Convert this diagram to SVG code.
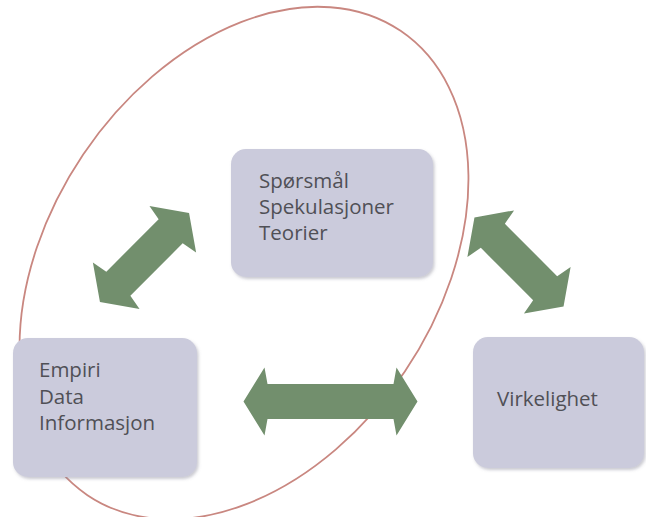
<svg xmlns="http://www.w3.org/2000/svg" width="646" height="517" viewBox="0 0 646 517">
<defs>
<style>
.box{fill:#cbcbdc;filter:url(#sh)}
.lbl{font-family:"Open Sans","Noto Sans",sans-serif;font-size:20.5px;fill:#505056}
.arr{fill:#728f6d}
.ring{fill:none;stroke:#c98780;stroke-width:1.8}
</style>
<filter id="sh" x="-10%" y="-10%" width="125%" height="125%">
<feDropShadow dx="1.5" dy="2" stdDeviation="1.5" flood-color="#8a8a9a" flood-opacity="0.45"/>
</filter>
<path id="dArr" d="M-63,0 L-40,-33 L-37,-17 L37,-17 L40,-33 L63,0 L40,33 L37,17 L-37,17 L-40,33 Z"/>
</defs>
<rect width="646" height="517" fill="#ffffff"/>
<ellipse class="ring" cx="244" cy="263" rx="280" ry="194" transform="rotate(-56 244 263)"/>
<g id="connectors">
<use href="#dArr" class="arr" transform="translate(144.5,257.5) rotate(-45)"/>
<use href="#dArr" class="arr" transform="translate(519,262) rotate(45)"/>
<path class="arr" transform="translate(330.5,401.5)" d="M-87,0 L-66,-34 L-63,-17.5 L63,-17.5 L66,-34 L87,0 L66,34 L63,17.5 L-63,17.5 L-66,34 Z"/>
</g>
<g id="teori">
<rect class="box" x="231" y="149" width="202" height="128" rx="15"/>
<text class="lbl" x="259" y="188">Spørsmål</text>
<text class="lbl" x="259" y="214">Spekulasjoner</text>
<text class="lbl" x="259" y="240">Teorier</text>
</g>
<g id="empiri">
<rect class="box" x="13" y="338" width="184" height="139" rx="15"/>
<text class="lbl" x="39" y="377">Empiri</text>
<text class="lbl" x="39" y="404">Data</text>
<text class="lbl" x="39" y="430">Informasjon</text>
</g>
<g id="virkelighet">
<rect class="box" x="473" y="337" width="171" height="131" rx="15"/>
<text class="lbl" x="497" y="406">Virkelighet</text>
</g>
</svg>
